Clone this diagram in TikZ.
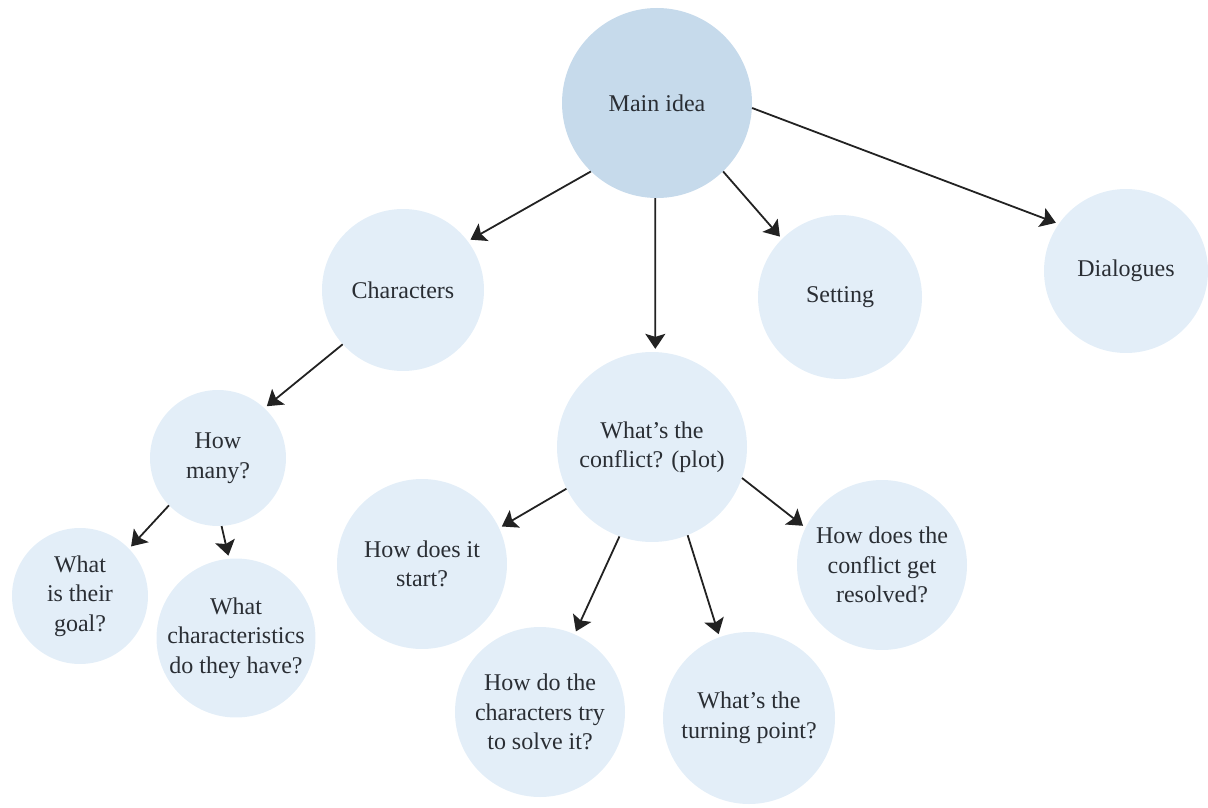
\documentclass[tikz,border=0pt]{standalone}
\usepackage{fontspec}
\setmainfont{Liberation Serif}
\usetikzlibrary{arrows.meta}
\definecolor{bubblefill}{HTML}{E3EEF8}
\definecolor{mainfill}{HTML}{C6DAEB}
\definecolor{inktext}{HTML}{2A2E34}
\definecolor{inkline}{HTML}{222222}
\begin{document}
\begin{tikzpicture}[x=1pt,y=-1pt,
  bubble/.style={circle,fill=bubblefill,draw=none,inner sep=0pt,align=center,
    text=inktext,font=\fontsize{24}{29.5}\selectfont},
  mainbubble/.style={bubble,fill=mainfill},
  link/.style={draw=inkline,line width=1.8pt,shorten >=3pt,
    -{Stealth[length=15pt,width=20pt,inset=3pt]}}]
\useasboundingbox (0,0) rectangle (1208,808);

% bubbles
\node[mainbubble,minimum size=190pt] (main) at (657,103) {Main idea};
\node[bubble,minimum size=162pt] (char) at (403,290) {Characters};
\node[bubble,minimum size=164pt] (setting) at (840,297) {Setting};
\node[bubble,minimum size=164pt] (dial) at (1126,271) {Dialogues};
\node[bubble,minimum size=190pt] (conflict) at (652,447) {What’s the\\conflict? (plot)};
\node[bubble,minimum size=136pt] (many) at (218,458) {How\\many?};
\node[bubble,minimum size=136pt] (goal) at (80,596) {What\\is their\\goal?};
\node[bubble,minimum size=152pt] (traits) at (236,638) {What\\characteristics\\do they have?};
\node[bubble,minimum size=170pt] (start) at (422,564) {How does it\\start?};
\node[bubble,minimum size=170pt] (resolved) at (882,565) {How does the\\conflict get\\resolved?};
\node[bubble,minimum size=170pt] (solve) at (540,712) {How do the\\characters try\\to solve it?};
\node[bubble,minimum size=172pt] (turning) at (749,718) {What’s the\\turning point?};

% connectors
\draw[link] (main.226) -- (char.37);
\draw[link] (main.269) -- (conflict.88);
\draw[link] (main.-46) -- (setting.135);
\draw[link] (main.-3) -- (dial.145);
\draw[link] (char.222) -- (many.47);
\draw[link] (many.224) -- (goal.44);
\draw[link] (many.273) -- (traits.95);
\draw[link] (conflict.206) -- (start.25);
\draw[link] (conflict.250) -- (solve.66);
\draw[link] (conflict.-68) -- (turning.110);
\draw[link] (conflict.-19) -- (resolved.154);
\end{tikzpicture}
\end{document}
